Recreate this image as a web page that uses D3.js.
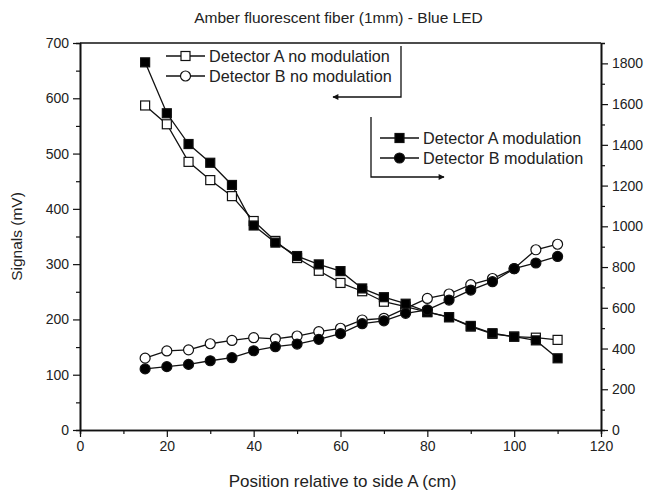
<!DOCTYPE html>
<html>
<head>
<meta charset="utf-8">
<script src="https://cdn.jsdelivr.net/npm/d3@7"></script>
<style>
  html, body { margin: 0; padding: 0; background: #fff; }
  svg text { font-family: "Liberation Sans", Arial, sans-serif; fill: #222; }
</style>
</head>
<body>
<div id="chart"></div>
<script>
/* ── Data ── */
const positions = [15, 20, 25, 30, 35, 40, 45, 50, 55, 60, 65, 70, 75, 80, 85, 90, 95, 100, 105, 110];

// left axis (mV)
const detANoMod = [587, 553, 485, 452, 423, 378, 342, 311, 288, 266, 251, 232, 223, 213, 204, 187, 174, 169, 167, 163];
const detBNoMod = [130, 143, 145, 156, 162, 167, 165, 170, 178, 184, 199, 202, 220, 238, 246, 263, 274, 292, 326, 336];

// right axis
const detAMod = [1805, 1555, 1404, 1312, 1203, 1004, 920, 854, 813, 780, 695, 652, 620, 580, 554, 511, 475, 458, 440, 352];
const detBMod = [300, 311, 322, 340, 355, 389, 409, 422, 445, 473, 522, 536, 573, 590, 638, 687, 728, 792, 820, 852];

const xTicks      = [0, 20, 40, 60, 80, 100, 120];
const leftTicks   = [0, 100, 200, 300, 400, 500, 600, 700];
const rightTicks  = [0, 200, 400, 600, 800, 1000, 1200, 1400, 1600, 1800];

/* ── Geometry ── */
const W = 649, H = 494;
const M = { left: 80, right: 48, top: 43, bottom: 64 };
const PW = W - M.left - M.right;
const PH = H - M.top - M.bottom;

const svg = d3.select('#chart').append('svg')
  .attr('width', W).attr('height', H);

const x  = d3.scaleLinear().domain([0, 120]).range([M.left, M.left + PW]);
const yL = d3.scaleLinear().domain([0, 700]).range([M.top + PH, M.top]);
const yR = d3.scaleLinear().domain([0, 1900]).range([M.top + PH, M.top]);

/* ── Axes ── */
const axisStyle = g => {
  g.selectAll('.domain').attr('stroke', '#111').attr('stroke-width', 1.6);
  g.selectAll('.tick line').attr('stroke', '#111').attr('stroke-width', 1.2);
  g.selectAll('.tick text').attr('font-size', 14).attr('fill', '#222')
    .attr('font-family', '"Liberation Sans", Arial, sans-serif');
};

// minor ticks first (no labels)
svg.append('g').attr('transform', `translate(0,${M.top + PH})`)
  .call(d3.axisBottom(x).tickValues(d3.range(10, 120, 20)).tickSize(4).tickFormat(''))
  .call(axisStyle);
svg.append('g').attr('transform', `translate(${M.left},0)`)
  .call(d3.axisLeft(yL).tickValues(d3.range(50, 700, 100)).tickSize(4).tickFormat(''))
  .call(axisStyle);
svg.append('g').attr('transform', `translate(${M.left + PW},0)`)
  .call(d3.axisRight(yR).tickValues(d3.range(100, 1900, 200)).tickSize(4).tickFormat(''))
  .call(axisStyle);

svg.append('g').attr('transform', `translate(0,${M.top + PH})`)
  .call(d3.axisBottom(x).tickValues(xTicks).tickSize(7).tickPadding(4).tickSizeOuter(0))
  .call(axisStyle);
svg.append('g').attr('transform', `translate(${M.left},0)`)
  .call(d3.axisLeft(yL).tickValues(leftTicks).tickSize(7).tickPadding(4).tickSizeOuter(0))
  .call(axisStyle);
svg.append('g').attr('transform', `translate(${M.left + PW},0)`)
  .call(d3.axisRight(yR).tickValues(rightTicks).tickSize(7).tickPadding(4)
    .tickSizeOuter(0).tickFormat(d3.format('d')))
  .call(axisStyle);

// top frame line
svg.append('line')
  .attr('x1', M.left).attr('x2', M.left + PW)
  .attr('y1', M.top).attr('y2', M.top)
  .attr('stroke', '#111').attr('stroke-width', 1.6);

/* ── Titles ── */
svg.append('text')
  .attr('x', M.left + PW / 2 - 2).attr('y', 23)
  .attr('text-anchor', 'middle').attr('font-size', 15.5)
  .text('Amber fluorescent fiber (1mm) - Blue LED');

svg.append('text')
  .attr('x', M.left + PW / 2 + 2).attr('y', 487)
  .attr('text-anchor', 'middle').attr('font-size', 17)
  .text('Position relative to side A (cm)');

svg.append('text')
  .attr('transform', `translate(22,${M.top + PH / 2}) rotate(-90)`)
  .attr('text-anchor', 'middle').attr('font-size', 15.5)
  .text('Signals (mV)');

/* ── Series ── */
const series = [
  { name: 'Detector A no modulation', values: detANoMod, y: yL, shape: 'square', fill: '#fff' },
  { name: 'Detector B no modulation', values: detBNoMod, y: yL, shape: 'circle', fill: '#fff' },
  { name: 'Detector A modulation',    values: detAMod,   y: yR, shape: 'square', fill: '#000' },
  { name: 'Detector B modulation',    values: detBMod,   y: yR, shape: 'circle', fill: '#000' }
];

function drawMarker(sel, shape, fill) {
  if (shape === 'square') {
    sel.append('rect')
      .attr('x', -4.5).attr('y', -4.5).attr('width', 9).attr('height', 9)
      .attr('fill', fill).attr('stroke', '#111').attr('stroke-width', 1.2);
  } else {
    sel.append('circle')
      .attr('r', 5)
      .attr('fill', fill).attr('stroke', '#111').attr('stroke-width', 1.2);
  }
}

const plot = svg.append('g');

series.forEach(s => {
  const pts = positions.map((p, i) => [x(p), s.y(s.values[i])]);
  plot.append('path')
    .attr('d', d3.line()(pts))
    .attr('fill', 'none').attr('stroke', '#111').attr('stroke-width', 1.3);
});

series.forEach(s => {
  plot.selectAll(null)
    .data(positions.map((p, i) => [x(p), s.y(s.values[i])]))
    .join('g')
    .attr('transform', d => `translate(${d[0]},${d[1]})`)
    .each(function() { drawMarker(d3.select(this), s.shape, s.fill); });
});

/* ── Legends ── */
const defs = svg.append('defs');
defs.append('marker')
  .attr('id', 'arrow').attr('viewBox', '0 0 10 10')
  .attr('refX', 9).attr('refY', 5)
  .attr('markerWidth', 9).attr('markerHeight', 6)
  .attr('markerUnits', 'userSpaceOnUse')
  .attr('orient', 'auto')
  .append('path').attr('d', 'M0,0 L10,5 L0,10 Z').attr('fill', '#111');

function legendEntry(lx, ly, s) {
  const g = svg.append('g').attr('transform', `translate(${lx},${ly})`);
  g.append('line').attr('x1', 0).attr('x2', 39).attr('stroke', '#111').attr('stroke-width', 1.3);
  const m = g.append('g').attr('transform', 'translate(19.5,0)');
  drawMarker(m, s.shape, s.fill);
  g.append('text').attr('x', 43).attr('dy', '0.35em').attr('font-size', 16.2).text(s.name);
}

// left-axis legend
legendEntry(166, 56, series[0]);
legendEntry(166, 76, series[1]);
svg.append('path')
  .attr('d', 'M401,46 L401,97 L333,97')
  .attr('fill', 'none').attr('stroke', '#111').attr('stroke-width', 1.3)
  .attr('marker-end', 'url(#arrow)');

// right-axis legend
legendEntry(380, 138, series[2]);
legendEntry(380, 158, series[3]);
svg.append('path')
  .attr('d', 'M371,117 L371,177 L444,177')
  .attr('fill', 'none').attr('stroke', '#111').attr('stroke-width', 1.3)
  .attr('marker-end', 'url(#arrow)');
</script>
</body>
</html>
